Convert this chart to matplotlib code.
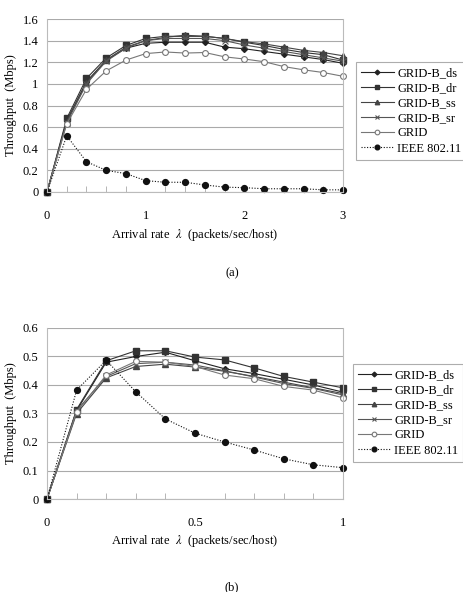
import matplotlib
matplotlib.use("Agg")
import matplotlib.pyplot as plt
from matplotlib.ticker import MultipleLocator

plt.rcParams['font.family'] = ['Liberation Serif', 'DejaVu Serif']
plt.rcParams['mathtext.fontset'] = 'stix'

# (a) arrival rate 0..3
x_a = [0, 0.2, 0.4, 0.6, 0.8, 1.0, 1.2, 1.4, 1.6, 1.8, 2.0, 2.2, 2.4, 2.6, 2.8, 3.0]
ds_a = [0, 0.66, 1.02, 1.22, 1.33, 1.375, 1.385, 1.385, 1.385, 1.34, 1.325, 1.30, 1.275, 1.25, 1.225, 1.19]
dr_a = [0, 0.68, 1.05, 1.24, 1.355, 1.42, 1.44, 1.44, 1.44, 1.42, 1.385, 1.355, 1.32, 1.29, 1.27, 1.22]
ss_a = [0, 0.65, 1.01, 1.22, 1.34, 1.40, 1.43, 1.45, 1.44, 1.42, 1.39, 1.37, 1.34, 1.31, 1.29, 1.26]
sr_a = [0, 0.64, 1.00, 1.21, 1.33, 1.40, 1.42, 1.42, 1.42, 1.40, 1.36, 1.33, 1.30, 1.27, 1.24, 1.21]
grid_a = [0, 0.63, 0.95, 1.12, 1.22, 1.28, 1.295, 1.285, 1.29, 1.25, 1.23, 1.205, 1.16, 1.13, 1.105, 1.07]
ieee_a = [0, 0.52, 0.28, 0.20, 0.17, 0.105, 0.09, 0.09, 0.065, 0.045, 0.04, 0.03, 0.03, 0.03, 0.02, 0.02]

# (b) arrival rate 0..1
x_b = [0, 0.1, 0.2, 0.3, 0.4, 0.5, 0.6, 0.7, 0.8, 0.9, 1.0]
ds_b = [0, 0.31, 0.48, 0.50, 0.515, 0.485, 0.457, 0.44, 0.42, 0.40, 0.375]
dr_b = [0, 0.314, 0.485, 0.52, 0.52, 0.498, 0.488, 0.46, 0.43, 0.41, 0.39]
ss_b = [0, 0.30, 0.425, 0.465, 0.473, 0.463, 0.448, 0.43, 0.41, 0.39, 0.37]
sr_b = [0, 0.31, 0.43, 0.475, 0.48, 0.47, 0.45, 0.428, 0.405, 0.388, 0.365]
grid_b = [0, 0.305, 0.435, 0.483, 0.48, 0.465, 0.435, 0.422, 0.395, 0.382, 0.355]
ieee_b = [0, 0.382, 0.487, 0.376, 0.281, 0.231, 0.20, 0.172, 0.141, 0.12, 0.11]

labels = ['GRID-B_ds', 'GRID-B_dr', 'GRID-B_ss', 'GRID-B_sr', 'GRID', 'IEEE 802.11']
styles = [
    dict(color='#222222', marker='D', ms=3, ls='-', lw=0.8),
    dict(color='#333333', marker='s', ms=4.2, ls='-', lw=0.8),
    dict(color='#444444', marker='^', ms=4, ls='-', lw=0.8),
    dict(color='#555555', marker='x', ms=4, mew=0.8, ls='-', lw=0.8),
    dict(color='#777777', marker='o', ms=4.2, mfc='white', mew=0.8, ls='-', lw=0.8),
    dict(color='#111111', marker='o', ms=4.2, ls=(0, (1, 1.5)), lw=0.8),
]

fig = plt.figure(figsize=(4.63, 5.92), dpi=100)
W, H = 463, 592


def panel(rect, x, series, ylim, ystep, xmax, xmajor, xminor, xticklabels, legend_rect, tag, tag_y, xlabel_y):
    l, t, r, b = rect
    ax = fig.add_axes([l / W, 1 - b / H, (r - l) / W, (b - t) / H])
    for ys, lab, st in zip(series, labels, styles):
        ax.plot(x, ys, label=lab, clip_on=False, **st)
    ax.set_xlim(0, xmax)
    ax.set_ylim(0, ylim)
    ax.yaxis.set_major_locator(MultipleLocator(ystep))
    ax.set_xticks(xmajor)
    ax.set_xticklabels(xticklabels)
    ax.xaxis.set_minor_locator(MultipleLocator(xminor))
    ax.yaxis.set_major_formatter(matplotlib.ticker.FuncFormatter(lambda v, p: ('%g' % round(v, 2))))
    ax.grid(True, axis='y', color='#aaaaaa', lw=0.8)
    ax.set_axisbelow(True)
    for s in ['top', 'right', 'left', 'bottom']:
        ax.spines[s].set_color('#bbbbbb')
        ax.spines[s].set_linewidth(0.8)
    ax.spines['top'].set_visible(False)
    ax.tick_params(axis='y', length=0, labelsize=9, pad=6)
    ax.tick_params(axis='x', which='major', length=0, labelsize=9, pad=13)
    ax.tick_params(axis='x', which='minor', length=4, color='#aaaaaa', direction='in')
    ax.set_ylabel('Throughput  (Mbps)', fontsize=9, labelpad=4)
    fig.text(((l + r) / 2) / W, 1 - xlabel_y / H, r'Arrival rate  $\lambda$  (packets/sec/host)',
             ha='center', va='center', fontsize=9)
    fig.text(232 / W, 1 - tag_y / H, tag, ha='center', va='center', fontsize=9)
    ll, lt, lr, lb = legend_rect
    leg = ax.legend(loc='upper left', bbox_to_anchor=((ll - l) / (r - l), (b - lt) / (b - t)),
                    fontsize=9, frameon=True, fancybox=False, borderpad=0.4, labelspacing=0.25,
                    handlelength=2.6, handletextpad=0.3, borderaxespad=0, markerscale=0.8)
    leg.get_frame().set_edgecolor('#999999')
    leg.get_frame().set_linewidth(0.8)
    return ax


panel((47, 19, 343, 192), x_a, [ds_a, dr_a, ss_a, sr_a, grid_a, ieee_a], 1.6, 0.2, 3,
      [0, 1, 2, 3], 0.2, ['0', '1', '2', '3'], (356, 62, 456, 158), '(a)', 273, 235)
panel((47, 328, 343, 499), x_b, [ds_b, dr_b, ss_b, sr_b, grid_b, ieee_b], 0.6, 0.1, 1,
      [0, 0.5, 1], 0.1, ['0', '0.5', '1'], (353, 364, 459, 454), '(b)', 587, 541)

fig.savefig('out.png', dpi=100)
